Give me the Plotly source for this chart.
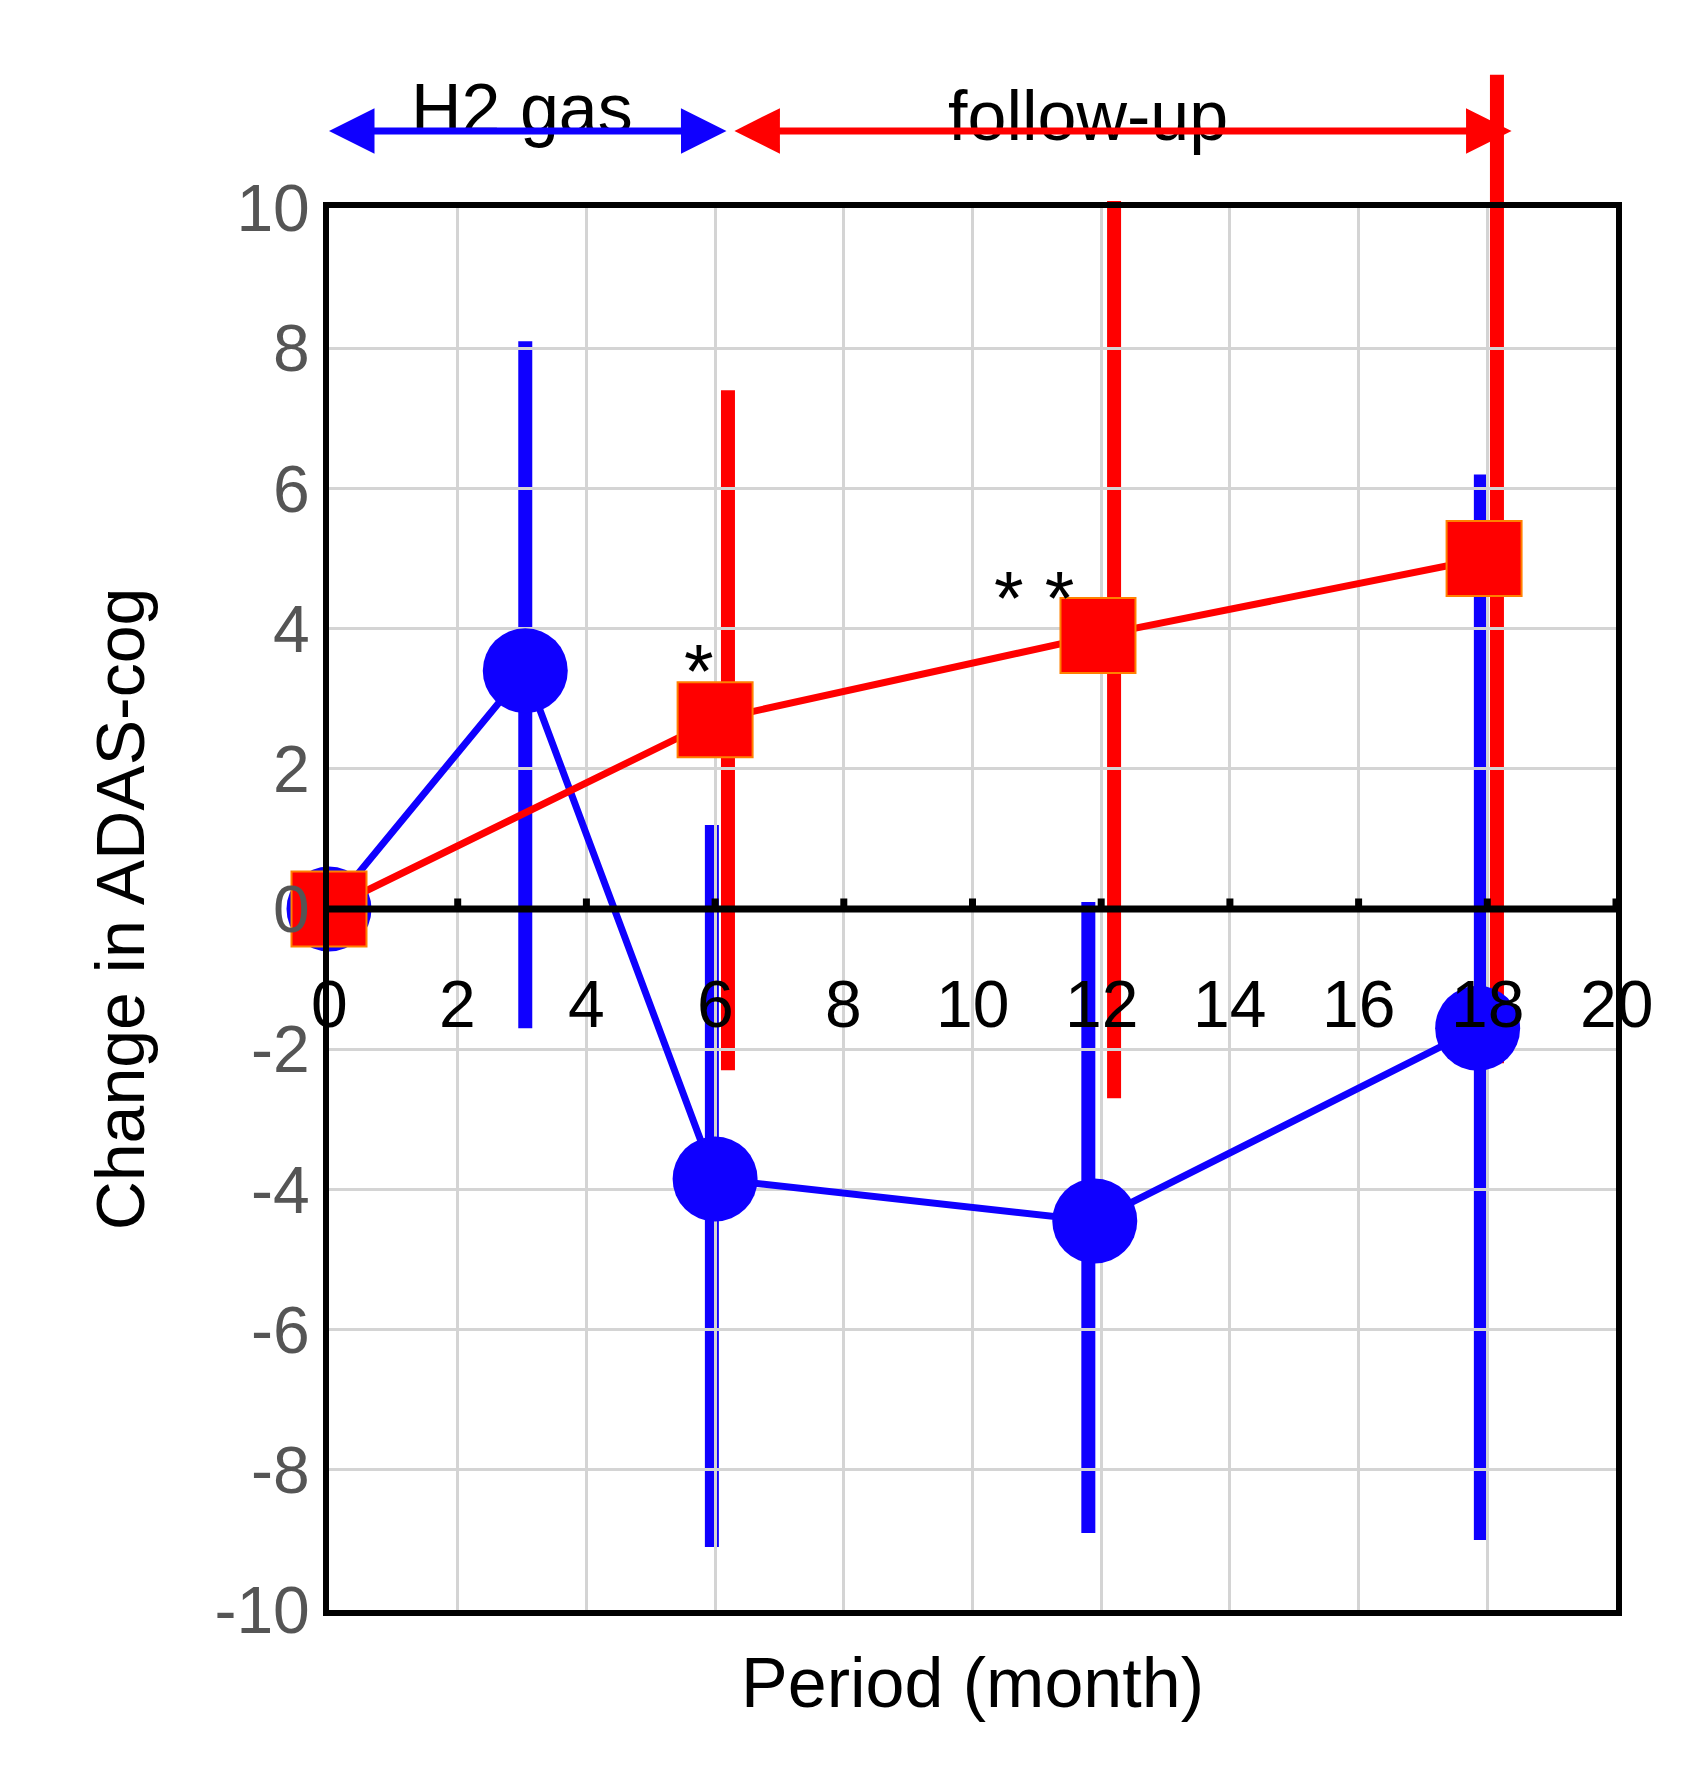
import plotly.graph_objects as go

blue_x = [0, 3.05, 6.0, 11.9, 17.85]
blue_y = [0, 3.4, -3.85, -4.45, -1.7]
blue_bar_x = [3.05, 5.95, 11.8, 17.9]
blue_hi = [8.1, 1.2, 0.1, 6.2]
blue_lo = [-1.7, -9.1, -8.9, -9.0]

red_x = [0, 6.0, 11.95, 17.95]
red_y = [0, 2.7, 3.9, 5.0]
red_bar_x = [6.2, 12.2, 18.15]
red_hi = [7.4, 10.1, 11.9]
red_lo = [-2.3, -2.7, -2.2]

x_ticks = [0, 2, 4, 6, 8, 10, 12, 14, 16, 18, 20]
y_ticks = [-10, -8, -6, -4, -2, 0, 2, 4, 6, 8, 10]
y_ticktext = [str(v) for v in y_ticks]

BLUE = "#0f00ff"
RED = "#ff0000"
YMIN, YMAX = -10, 10
def py(v):
    return (v - YMIN) / (YMAX - YMIN)

fig = go.Figure()
shapes = []

def bars(xs, hi, lo, color):
    for x, h, l in zip(xs, hi, lo):
        shapes.append(dict(type="line", xref="x", yref="paper", x0=x, x1=x, y0=py(l), y1=py(h),
                           line=dict(color=color, width=14), layer="below"))

fig.add_trace(go.Scatter(x=blue_x, y=blue_y, mode="lines", line=dict(color=BLUE, width=7),
                         cliponaxis=False, showlegend=False))
bars(blue_bar_x, blue_hi, blue_lo, BLUE)
fig.add_trace(go.Scatter(x=blue_x, y=blue_y, mode="markers", marker=dict(color=BLUE, size=85, symbol="circle"),
                         cliponaxis=False, showlegend=False))
fig.add_trace(go.Scatter(x=red_x, y=red_y, mode="lines", line=dict(color=RED, width=7),
                         cliponaxis=False, showlegend=False))
bars(red_bar_x, red_hi, red_lo, RED)
fig.add_trace(go.Scatter(x=red_x, y=red_y, mode="markers",
                         marker=dict(color=RED, size=75, symbol="square", line=dict(color="#ff8000", width=2)),
                         cliponaxis=False, showlegend=False))

shapes.append(dict(type="line", x0=0, x1=20.1, y0=0, y1=0, line=dict(color="black", width=7)))
for t in x_ticks[1:]:
    shapes.append(dict(type="line", x0=t, x1=t, y0=0, y1=0.15, line=dict(color="black", width=7)))

px_per_x = (1689 - 321 - 81) / 20.0
anns = []
for t in x_ticks:
    anns.append(dict(x=t, y=-1.35, text=str(t), showarrow=False, font=dict(size=66, color="black")))
anns += [
    dict(x=5.75, y=3.4, text="*", showarrow=False, font=dict(size=76, color="black")),
    dict(x=10.95, y=4.45, text="* *", showarrow=False, font=dict(size=76, color="black")),
    dict(x=3.0, yref="paper", y=py(12.0), text="H2 gas", showarrow=False, font=dict(size=70, color="black")),
    dict(x=11.8, yref="paper", y=py(11.9), text="follow-up", showarrow=False, font=dict(size=70, color="black")),
    dict(x=0, yref="paper", y=py(11.1), ax=6.2 * px_per_x, ay=0, axref="pixel", ayref="pixel", text="",
         showarrow=True, arrowhead=2, arrowsize=1.3, arrowwidth=7, arrowcolor=BLUE, arrowside="end+start"),
    dict(x=6.3, yref="paper", y=py(11.1), ax=12.1 * px_per_x, ay=0, axref="pixel", ayref="pixel", text="",
         showarrow=True, arrowhead=2, arrowsize=1.3, arrowwidth=7, arrowcolor=RED, arrowside="end+start"),
]
fig.update_layout(
    width=1689, height=1776, margin=dict(l=321, r=81, t=200, b=174),
    plot_bgcolor="white", paper_bgcolor="white",
    font=dict(family="Liberation Sans, Arial, sans-serif"),
    annotations=anns, shapes=shapes,
    xaxis=dict(range=[0, 20], tickvals=x_ticks, showticklabels=False, showgrid=True,
               gridcolor="#d4d4d4", gridwidth=3, zeroline=False, showline=True, mirror=True,
               linecolor="black", linewidth=6,
               title=dict(text="Period (month)", font=dict(size=70, color="black"), standoff=45)),
    yaxis=dict(range=[YMIN, YMAX], tickvals=y_ticks, ticktext=y_ticktext, showgrid=True,
               gridcolor="#d4d4d4", gridwidth=3,
               zeroline=False, showline=True, mirror=True, linecolor="black", linewidth=6,
               tickfont=dict(size=66, color="#555555"), ticklen=0, ticks="",
               title=dict(text="Change in ADAS-cog", font=dict(size=68, color="black"), standoff=50)),
)
fig.write_html("out.html")
